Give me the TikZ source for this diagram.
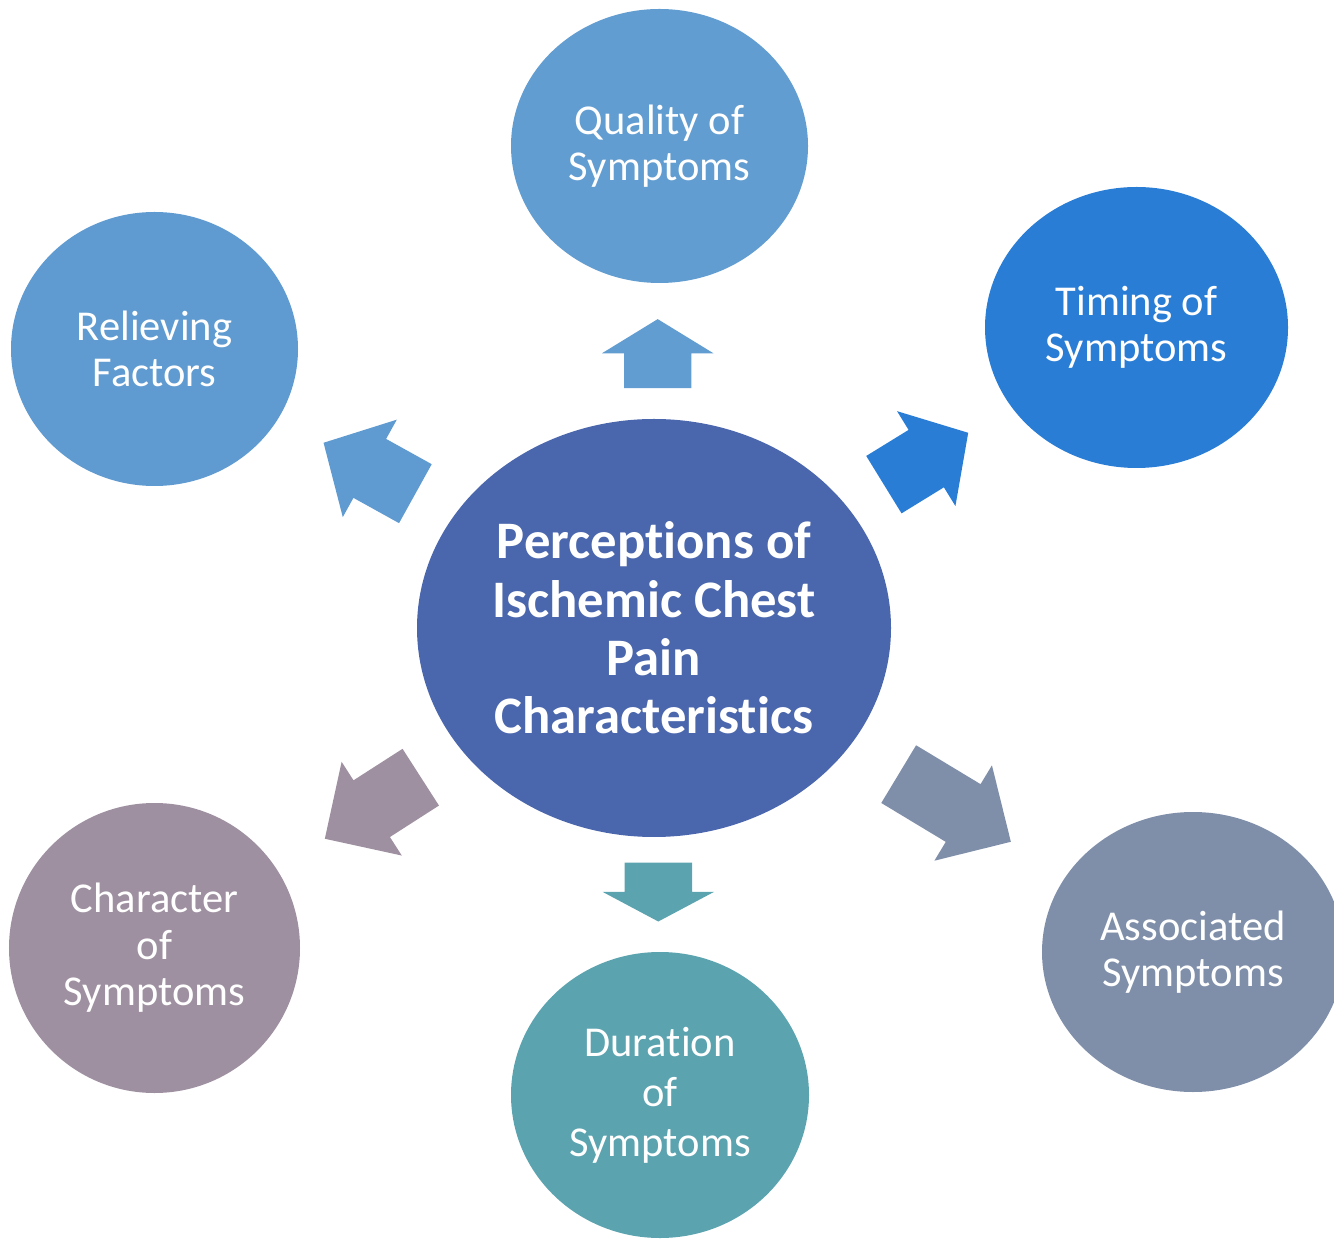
\documentclass[tikz,border=0pt]{standalone}
\usepackage{fontspec}
\setmainfont{Carlito}[RawFeature={-liga;-clig;-calt;-dlig;-rlig}]
\usetikzlibrary{shapes.geometric,shapes.arrows}

\definecolor{cctr}{HTML}{4A66AC}
\definecolor{cqual}{HTML}{629DD1}
\definecolor{ctime}{HTML}{2A7DD5}
\definecolor{crelief}{HTML}{5F9BD0}
\definecolor{cchar}{HTML}{9E90A0}
\definecolor{cdur}{HTML}{5BA3AF}
\definecolor{cassoc}{HTML}{7F8FA9}

\begin{document}
\begin{tikzpicture}[
    bubble/.style={ellipse,inner sep=0pt,text=white,align=center,
        font=\fontsize{12.1pt}{13.2pt}\selectfont},
    blockarrow/.style={single arrow,draw=none,inner xsep=0pt,inner ysep=0.33cm,
        single arrow head extend=0.22cm,anchor=tip}]
        \useasboundingbox (0,0) rectangle (13.34,12.38);
        % centre
        \node[bubble,fill=cctr,minimum width=4.74cm,minimum height=4.18cm,
            font=\bfseries\fontsize{15pt}{16.6pt}\selectfont] (ctr) at (6.54,6.10)
            {Perceptions of\\Ischemic Chest\\Pain\\Characteristics};
        % outer bubbles
        \node[bubble,fill=cqual,minimum width=2.97cm,minimum height=2.74cm] (quality) at (6.595,10.92) {Quality of\\Symptoms};
        \node[bubble,fill=ctime,minimum width=3.03cm,minimum height=2.81cm] (timing) at (11.365,9.105) {Timing of\\Symptoms};
        \node[bubble,fill=crelief,minimum width=2.87cm,minimum height=2.74cm] (relief) at (1.545,8.89) {Relieving\\Factors};
        \node[bubble,fill=cchar,minimum width=2.91cm,minimum height=2.90cm] (charac) at (1.545,2.90) {Character\\of\\Symptoms};
        \node[bubble,fill=cdur,minimum width=2.98cm,minimum height=2.86cm,
            font=\fontsize{12.1pt}{14.2pt}\selectfont] (dur) at (6.60,1.43) {Duration\\of\\Symptoms};
        \node[bubble,fill=cassoc,minimum width=3.02cm,minimum height=2.80cm] (assoc) at (11.93,2.86) {Associated\\Symptoms};
        % block arrows
        \node[blockarrow,fill=cqual,rotate=90,single arrow tip angle=117,minimum height=0.69cm] (aqual) at (6.577,9.197) {};
        \node[blockarrow,fill=ctime,rotate=31.6,single arrow tip angle=97,minimum height=0.99cm] (atime) at (9.69,8.057) {};
        \node[blockarrow,fill=crelief,rotate=151,single arrow tip angle=93,minimum height=1.05cm] (arelief) at (3.227,7.957) {};
        \node[blockarrow,fill=cchar,rotate=-147.3,single arrow tip angle=90,minimum height=1.14cm] (achar) at (3.24,3.987) {};
        \node[blockarrow,fill=cassoc,rotate=-31.1,single arrow tip angle=90,minimum height=1.31cm] (aassoc) at (10.117,3.957) {};
        \node[blockarrow,fill=cdur,rotate=-90,single arrow tip angle=124,minimum height=0.59cm] (adur) at (6.583,3.157) {};
\end{tikzpicture}
\end{document}
